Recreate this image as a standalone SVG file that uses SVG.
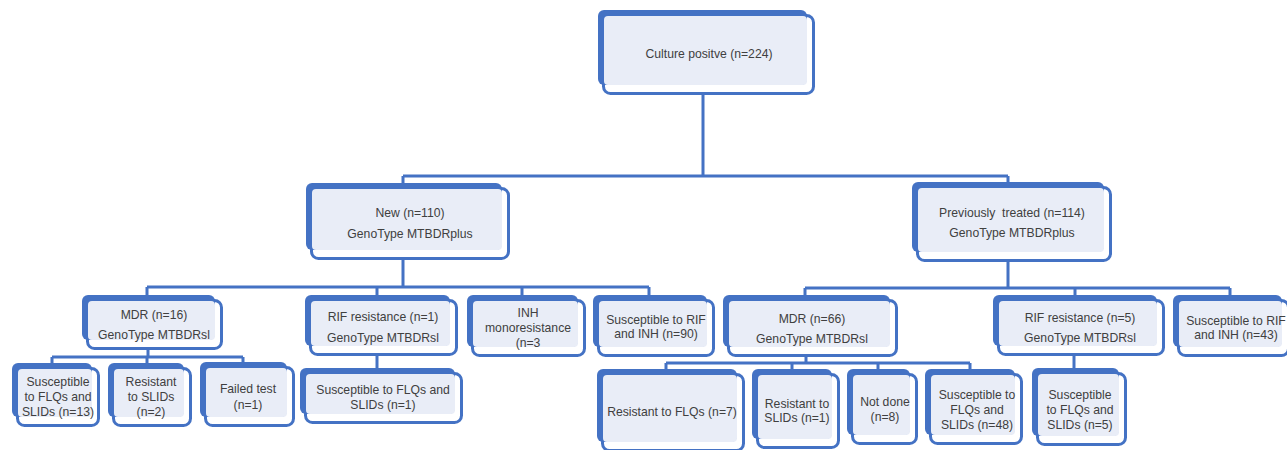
<svg xmlns="http://www.w3.org/2000/svg" width="1287" height="450" viewBox="0 0 1287 450">
<style>
.ol{fill:#ffffff;stroke:#4472C4;stroke-width:3}
.sh{fill:#4472C4}
.bg{fill:#E9EDF7}
.t{font-family:"Liberation Sans",Arial,sans-serif;font-size:12.2px;fill:#404040;text-anchor:middle}
.c{fill:none;stroke:#4472C4;stroke-width:3}
</style>
<rect width="1287" height="450" fill="#ffffff"/>
<g id="connectors">
<path class="c" d="M703,95V176M403,176H1008M403,176V184M1008,176V183"/>
<path class="c" d="M403,260V287M147,287H649M147,287V296M377,287V296M522,287V296M649,287V296"/>
<path class="c" d="M148,350V357M52,357H243M52,357V364M147,357V364M243,357V363"/>
<path class="c" d="M377,356V369"/>
<path class="c" d="M1008,262V288M805,288H1230M805,288V296M1075,288V296M1230,288V296"/>
<path class="c" d="M806,357V363M666,363H970M666,363V370M792,363V370M878,363V370M970,363V370"/>
<path class="c" d="M1074,356V369"/>
</g>
<g id="n-culture">
<rect class="ol" x="603.5" y="15.5" width="210" height="78" rx="7"/>
<rect class="sh" x="598" y="10" width="209" height="75" rx="6"/>
<rect class="bg" x="604" y="16" width="203" height="69" rx="4"/>
<text class="t" x="709" y="58">Culture positve (n=224)</text>
</g>
<g id="n-new">
<rect class="ol" x="311.5" y="188.5" width="197" height="70" rx="7"/>
<rect class="sh" x="306" y="183" width="196" height="67" rx="6"/>
<rect class="bg" x="312" y="189" width="190" height="61" rx="4"/>
<text class="t" x="410" y="217">New (n=110)</text>
<text class="t" x="410" y="238">GenoType MTBDRplus</text>
</g>
<g id="n-prev">
<rect class="ol" x="917.5" y="187.5" width="193" height="73" rx="7"/>
<rect class="sh" x="912" y="182" width="192" height="70" rx="6"/>
<rect class="bg" x="918" y="188" width="186" height="64" rx="4"/>
<text class="t" x="1012" y="217" style="white-space:pre">Previously  treated (n=114)</text>
<text class="t" x="1012" y="237">GenoType MTBDRplus</text>
</g>
<g id="n-mdr16">
<rect class="ol" x="87.5" y="300.5" width="134" height="48" rx="7"/>
<rect class="sh" x="82" y="295" width="133" height="45" rx="6"/>
<rect class="bg" x="88" y="301" width="127" height="39" rx="4"/>
<text class="t" x="154" y="319">MDR (n=16)</text>
<text class="t" x="154" y="339">GenoType MTBDRsl</text>
</g>
<g id="n-s13">
<rect class="ol" x="17.5" y="368.5" width="81" height="57" rx="7"/>
<rect class="sh" x="12" y="363" width="80" height="54" rx="6"/>
<rect class="bg" x="18" y="369" width="74" height="48" rx="4"/>
<text class="t" x="58" y="386">Susceptible</text>
<text class="t" x="58" y="401">to FLQs and</text>
<text class="t" x="58" y="416">SLIDs (n=13)</text>
</g>
<g id="n-r2">
<rect class="ol" x="113.5" y="368.5" width="77" height="57" rx="7"/>
<rect class="sh" x="108" y="363" width="76" height="54" rx="6"/>
<rect class="bg" x="114" y="369" width="70" height="48" rx="4"/>
<text class="t" x="151" y="386">Resistant</text>
<text class="t" x="151" y="401">to SLIDs</text>
<text class="t" x="151" y="416">(n=2)</text>
</g>
<g id="n-f1">
<rect class="ol" x="205.5" y="367.5" width="88" height="58" rx="7"/>
<rect class="sh" x="200" y="362" width="87" height="55" rx="6"/>
<rect class="bg" x="206" y="368" width="81" height="49" rx="4"/>
<text class="t" x="248" y="393">Failed test</text>
<text class="t" x="248" y="409">(n=1)</text>
</g>
<g id="n-rif1">
<rect class="ol" x="310.5" y="300.5" width="146" height="54" rx="7"/>
<rect class="sh" x="305" y="295" width="145" height="51" rx="6"/>
<rect class="bg" x="311" y="301" width="139" height="45" rx="4"/>
<text class="t" x="383" y="321">RIF resistance (n=1)</text>
<text class="t" x="383" y="342">GenoType MTBDRsl</text>
</g>
<g id="n-sfs1">
<rect class="ol" x="305.5" y="373.5" width="156" height="49" rx="7"/>
<rect class="sh" x="300" y="368" width="155" height="46" rx="6"/>
<rect class="bg" x="306" y="374" width="149" height="40" rx="4"/>
<text class="t" x="383" y="394">Susceptible to FLQs and</text>
<text class="t" x="383" y="409">SLIDs (n=1)</text>
</g>
<g id="n-inh3">
<rect class="ol" x="472.5" y="300.5" width="112" height="55" rx="7"/>
<rect class="sh" x="467" y="295" width="111" height="52" rx="6"/>
<rect class="bg" x="473" y="301" width="105" height="46" rx="4"/>
<text class="t" x="528" y="317">INH</text>
<text class="t" x="528" y="332">monoresistance</text>
<text class="t" x="528" y="347">(n=3</text>
</g>
<g id="n-sri90">
<rect class="ol" x="598.5" y="300.5" width="115" height="55" rx="7"/>
<rect class="sh" x="593" y="295" width="114" height="52" rx="6"/>
<rect class="bg" x="599" y="301" width="108" height="46" rx="4"/>
<text class="t" x="656" y="324">Susceptible to RIF</text>
<text class="t" x="656" y="338">and INH (n=90)</text>
</g>
<g id="n-mdr66">
<rect class="ol" x="728.5" y="300.5" width="168" height="55" rx="7"/>
<rect class="sh" x="723" y="295" width="167" height="52" rx="6"/>
<rect class="bg" x="729" y="301" width="161" height="46" rx="4"/>
<text class="t" x="812" y="323">MDR (n=66)</text>
<text class="t" x="812" y="343">GenoType MTBDRsl</text>
</g>
<g id="n-rflq7">
<rect class="ol" x="602.5" y="374.5" width="141" height="76" rx="7"/>
<rect class="sh" x="597" y="369" width="140" height="73" rx="6"/>
<rect class="bg" x="603" y="375" width="134" height="67" rx="4"/>
<text class="t" x="672" y="416">Resistant to FLQs (n=7)</text>
</g>
<g id="n-rs1">
<rect class="ol" x="757.5" y="374.5" width="81" height="73" rx="7"/>
<rect class="sh" x="752" y="369" width="80" height="70" rx="6"/>
<rect class="bg" x="758" y="375" width="74" height="64" rx="4"/>
<text class="t" x="797" y="408">Resistant to</text>
<text class="t" x="797" y="422">SLIDs (n=1)</text>
</g>
<g id="n-nd8">
<rect class="ol" x="852.5" y="374.5" width="64" height="69" rx="7"/>
<rect class="sh" x="847" y="369" width="63" height="66" rx="6"/>
<rect class="bg" x="853" y="375" width="57" height="60" rx="4"/>
<text class="t" x="885" y="406">Not done</text>
<text class="t" x="885" y="421">(n=8)</text>
</g>
<g id="n-sfs48">
<rect class="ol" x="930.5" y="374.5" width="91" height="69" rx="7"/>
<rect class="sh" x="925" y="369" width="90" height="66" rx="6"/>
<rect class="bg" x="931" y="375" width="84" height="60" rx="4"/>
<text class="t" x="977" y="399">Susceptible to</text>
<text class="t" x="977" y="414">FLQs and</text>
<text class="t" x="977" y="429">SLIDs (n=48)</text>
</g>
<g id="n-rif5">
<rect class="ol" x="998.5" y="300.5" width="165" height="54" rx="7"/>
<rect class="sh" x="993" y="295" width="164" height="51" rx="6"/>
<rect class="bg" x="999" y="301" width="158" height="45" rx="4"/>
<text class="t" x="1080" y="322">RIF resistance (n=5)</text>
<text class="t" x="1080" y="342">GenoType MTBDRsl</text>
</g>
<g id="n-sfs5">
<rect class="ol" x="1037.5" y="373.5" width="88" height="71" rx="7"/>
<rect class="sh" x="1032" y="368" width="87" height="68" rx="6"/>
<rect class="bg" x="1038" y="374" width="81" height="62" rx="4"/>
<text class="t" x="1080" y="399">Susceptible</text>
<text class="t" x="1080" y="414">to FLQs and</text>
<text class="t" x="1080" y="429">SLIDs (n=5)</text>
</g>
<g id="n-sri43">
<rect class="ol" x="1178.5" y="300.5" width="110" height="55" rx="7"/>
<rect class="sh" x="1173" y="295" width="109" height="52" rx="6"/>
<rect class="bg" x="1179" y="301" width="103" height="46" rx="4"/>
<text class="t" x="1236" y="325">Susceptible to RIF</text>
<text class="t" x="1236" y="339">and INH (n=43)</text>
</g>
</svg>
